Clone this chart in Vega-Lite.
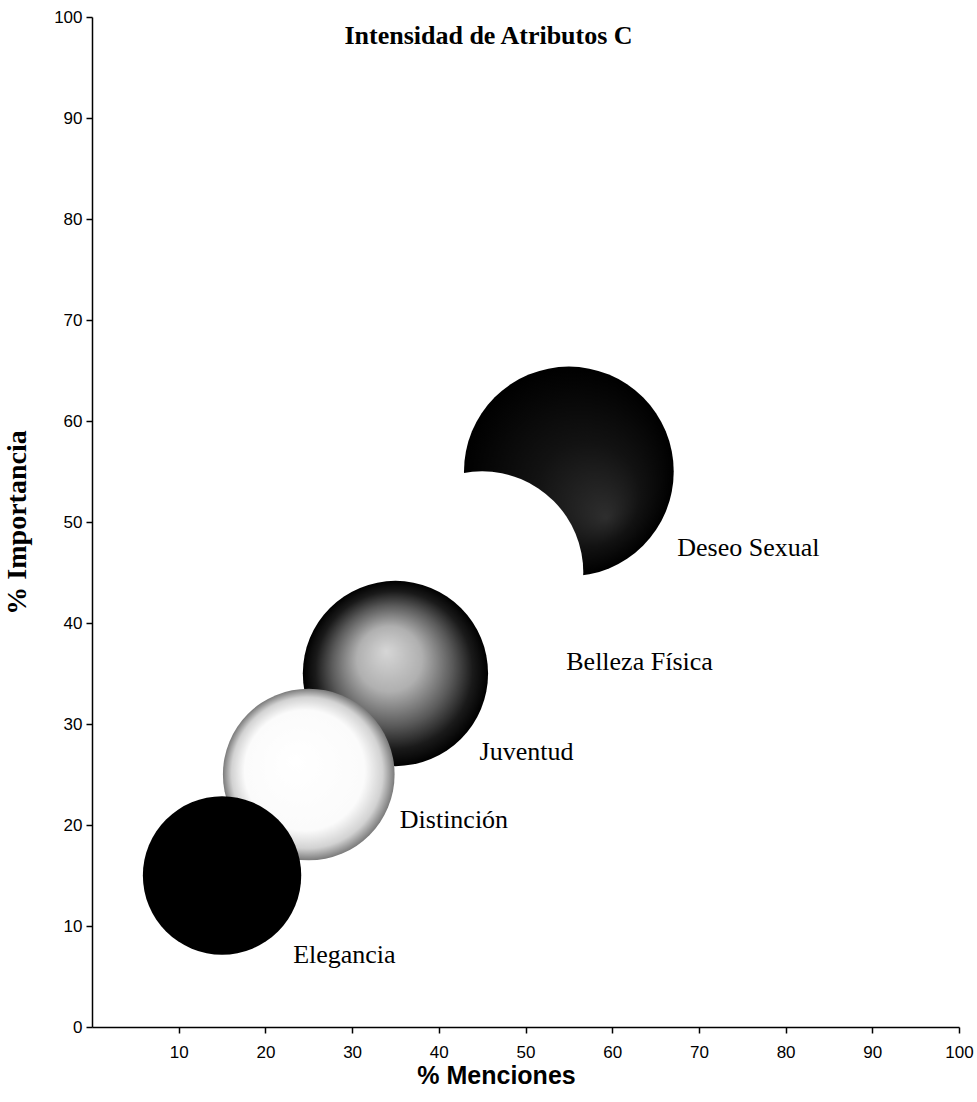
{
  "$schema": "https://vega.github.io/schema/vega-lite/v6.json",
  "width": 867,
  "height": 1010,
  "autosize": {"type": "none"},
  "padding": {"left": 92, "top": 17, "right": 18, "bottom": 75},
  "background": "white",
  "config": {
    "view": {"stroke": null},
    "axis": {
      "grid": false,
      "domainColor": "black",
      "domainWidth": 1.5,
      "tickColor": "black",
      "tickWidth": 1.5,
      "tickSize": 6,
      "labelColor": "black",
      "labelFont": "Liberation Sans",
      "labelFontSize": 17,
      "labelFlush": false,
      "labelOverlap": false,
      "titleColor": "black"
    }
  },
  "title": {
    "text": "Intensidad  de Atributos C",
    "font": "Liberation Serif",
    "fontSize": 26,
    "fontWeight": "bold",
    "color": "black",
    "anchor": "middle",
    "dx": -37,
    "dy": 45
  },
  "data": {
    "values": [
      {"Atributo": "Deseo Sexual", "Menciones": 55, "Importancia": 55, "Intensidad": 100, "EtiquetaX": 67.5, "EtiquetaY": 47.4},
      {"Atributo": "Belleza Física", "Menciones": 45, "Importancia": 45, "Intensidad": 93, "EtiquetaX": 54.7, "EtiquetaY": 36.1},
      {"Atributo": "Juventud", "Menciones": 35, "Importancia": 35, "Intensidad": 78, "EtiquetaX": 44.7, "EtiquetaY": 27.2},
      {"Atributo": "Distinción", "Menciones": 25, "Importancia": 25, "Intensidad": 67, "EtiquetaX": 35.5, "EtiquetaY": 20.5},
      {"Atributo": "Elegancia", "Menciones": 15, "Importancia": 15, "Intensidad": 57, "EtiquetaX": 23.2, "EtiquetaY": 7.1}
    ]
  },
  "layer": [
    {
      "encoding": {
        "x": {
          "field": "Menciones", "type": "quantitative",
          "scale": {"domain": [0, 100], "nice": false},
          "axis": {"values": [10, 20, 30, 40, 50, 60, 70, 80, 90, 100], "labelPadding": 11, "title": "% Menciones", "titleFont": "Liberation Sans", "titleFontSize": 25, "titleFontWeight": "bold", "titlePadding": 3, "titleX": 404}
        },
        "y": {
          "field": "Importancia", "type": "quantitative",
          "scale": {"domain": [0, 100], "nice": false},
          "axis": {"values": [0, 10, 20, 30, 40, 50, 60, 70, 80, 90, 100], "labelPadding": 4, "title": "% Importancia", "titleFont": "Liberation Serif", "titleFontSize": 28, "titleFontWeight": "bold", "titlePadding": 22}
        },
        "size": {
          "field": "Intensidad", "type": "quantitative",
          "scale": {"domain": [0, 100], "range": [0, 44000]},
          "legend": null
        }
      },
      "layer": [
        {
          "transform": [{"filter": "datum.Atributo === 'Deseo Sexual'"}],
          "mark": {"type": "circle", "opacity": 1, "color": {"gradient": "radial", "x1": 0.68, "y1": 0.72, "r1": 0, "x2": 0.5, "y2": 0.5, "r2": 0.5, "stops": [{"offset": 0, "color": "#2e2e2e"}, {"offset": 0.5, "color": "#121212"}, {"offset": 1, "color": "#000000"}]}}
        },
        {
          "transform": [{"filter": "datum.Atributo === 'Belleza Física'"}],
          "mark": {"type": "circle", "opacity": 1, "color": "#ffffff"}
        },
        {
          "transform": [{"filter": "datum.Atributo === 'Juventud'"}],
          "mark": {"type": "circle", "opacity": 1, "color": {"gradient": "radial", "x1": 0.45, "y1": 0.38, "r1": 0, "x2": 0.5, "y2": 0.5, "r2": 0.5, "stops": [{"offset": 0, "color": "#d6d6d6"}, {"offset": 0.35, "color": "#b0b0b0"}, {"offset": 0.65, "color": "#5a5a5a"}, {"offset": 0.85, "color": "#1a1a1a"}, {"offset": 1, "color": "#000000"}]}}
        },
        {
          "transform": [{"filter": "datum.Atributo === 'Distinción'"}],
          "mark": {"type": "circle", "opacity": 1, "color": {"gradient": "radial", "x1": 0.42, "y1": 0.42, "r1": 0, "x2": 0.5, "y2": 0.5, "r2": 0.5, "stops": [{"offset": 0, "color": "#ffffff"}, {"offset": 0.7, "color": "#fbfbfb"}, {"offset": 0.88, "color": "#d2d2d2"}, {"offset": 1, "color": "#7a7a7a"}]}}
        },
        {
          "transform": [{"filter": "datum.Atributo === 'Elegancia'"}],
          "mark": {"type": "circle", "opacity": 1, "color": "#000000"}
        }
      ]
    },
    {
      "mark": {"type": "text", "align": "left", "baseline": "middle", "font": "Liberation Serif", "fontSize": 26, "color": "black"},
      "encoding": {
        "x": {"field": "EtiquetaX", "type": "quantitative", "title": "% Menciones"},
        "y": {"field": "EtiquetaY", "type": "quantitative", "title": "% Importancia"},
        "text": {"field": "Atributo"}
      }
    }
  ]
}
